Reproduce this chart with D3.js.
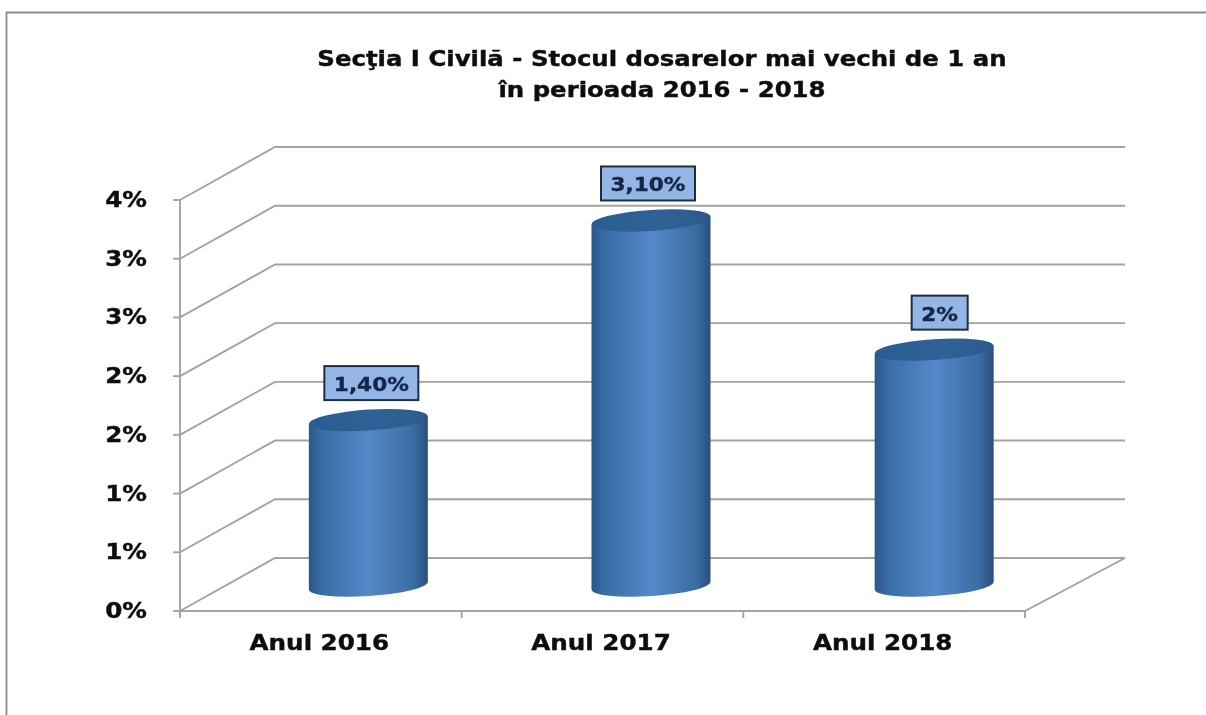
<!DOCTYPE html>
<html><head><meta charset="utf-8">
<script src="https://cdn.jsdelivr.net/npm/d3@7/dist/d3.min.js"></script>
<style>html,body{margin:0;padding:0;background:#fff;overflow:hidden}text{font-family:"DejaVu Sans",sans-serif;font-weight:bold}</style>
</head><body><svg id="c" width="1206" height="715"></svg>
<script>
const categories = ["Anul 2016","Anul 2017","Anul 2018"];
const values = [1.40,3.10,2.00];
const valueLabels = ["1,40%","3,10%","2%"];
const tickValues = [0,0.5,1,1.5,2,2.5,3,3.5];
const tickLabels = ["0%","1%","1%","2%","2%","3%","3%","4%"];
const titleLines = ["Secţia I Civilă - Stocul dosarelor mai vechi de 1 an","în perioada 2016 - 2018"];

const svg = d3.select("#c");
const depthX = 95, depthY = 53;
const y = d3.scaleLinear().domain([0,3.5]).range([611,200]);
const x = d3.scaleBand().domain(categories).range([180,1025]);
const grey = "#a3a3a3";
const barNudge = [0,1,2.5], labelNudge = [3,-2,8];

const defs = svg.append("defs");
const g = defs.append("linearGradient").attr("id","cyl");
[[0,"#2a5788"],[0.1,"#366ca6"],[0.5,"#5489c9"],[0.88,"#3a6ca3"],[1,"#2a4f7c"]]
  .forEach(([o,c])=>g.append("stop").attr("offset",o).attr("stop-color",c));
const cap = defs.append("linearGradient").attr("id","cap");
[[0,"#2b5c91"],[0.6,"#2f6296"],[1,"#2c5a8c"]]
  .forEach(([o,c])=>cap.append("stop").attr("offset",o).attr("stop-color",c));
const soft = defs.append("filter").attr("id","soft").attr("x","-5%").attr("y","-5%").attr("width","110%").attr("height","110%");
soft.append("feGaussianBlur").attr("stdDeviation",0.7);
const softer = defs.append("filter").attr("id","softT").attr("x","-5%").attr("y","-20%").attr("width","110%").attr("height","140%");
softer.append("feGaussianBlur").attr("stdDeviation",0.55);

function stretch(sel,f){
  sel.each(function(){
    this.setAttribute("textLength",this.getComputedTextLength()*f);
    this.setAttribute("lengthAdjust","spacingAndGlyphs");
  });
}

// frame
svg.append("path").attr("d","M6.5,715V12.5H1206").attr("fill","none").attr("stroke","#8c8c8c").attr("stroke-width",1.8);

// walls
const walls = svg.append("g").attr("fill","none").attr("stroke",grey).attr("stroke-width",1.9).attr("filter","url(#soft)");
walls.selectAll("path.grid").data(tickValues).join("path").attr("class","grid")
  .attr("d",d=>`M${x.range()[0]},${y(d)}L${x.range()[0]+depthX},${y(d)-depthY}H${x.range()[1]+depthX+5}`);
walls.append("path").attr("d",`M${x.range()[0]},${y(0)}H${x.range()[1]}L${x.range()[1]+depthX+5},${y(0)-depthY}`);
walls.append("path").attr("d",`M${x.range()[0]},${y(3.5)-0}V${y(0)}`);
walls.selectAll("path.ty").data(tickValues).join("path").attr("class","ty")
  .attr("d",d=>`M${x.range()[0]-7},${y(d)}H${x.range()[0]}`);
const xTicks = categories.map(c=>x(c)).concat(x.range()[1]);
walls.selectAll("path.tx").data(xTicks).join("path").attr("class","tx")
  .attr("d",d=>`M${d},${y(0)}v7`);

// cylinders
const rx = 59.5, ry = 10.5, tilt = -3.8;
const bars = svg.append("g").attr("filter","url(#soft)").selectAll("g").data(categories).join("g")
  .attr("transform",(c,i)=>`translate(${x(c)+x.bandwidth()/2+depthX/2+barNudge[i]},0)`);
const floorY = y(0)-depthY/2+1;
bars.each(function(c,i){
  const s = d3.select(this), top = y(values[i])-depthY/2;
  const dy = rx*Math.sin(-tilt*Math.PI/180);
  s.append("path")
    .attr("d",`M${-rx},${top+dy}L${-rx},${floorY+dy}A${rx},${ry} ${tilt} 0 0 ${rx},${floorY-dy}L${rx},${top-dy}Z`)
    .attr("fill","url(#cyl)");
  s.append("ellipse").attr("cx",0).attr("cy",top).attr("rx",rx).attr("ry",ry)
    .attr("transform",`rotate(${tilt} 0 ${top})`).attr("fill","url(#cap)");
});

// value labels
const lab = svg.append("g").selectAll("g").data(categories).join("g")
  .attr("transform",(c,i)=>`translate(${x(c)+x.bandwidth()/2+depthX/2+labelNudge[i]},${y(values[i])-depthY/2-37})`);
lab.append("rect").attr("x",(c,i)=>i==2?-28:-47).attr("width",(c,i)=>i==2?56:94).attr("y",-17).attr("height",34)
  .attr("fill","#93b6e6").attr("stroke","#1f2d44").attr("stroke-width",2);
lab.append("text").text((c,i)=>valueLabels[i]).attr("text-anchor","middle").attr("y",8).attr("font-size",20)
  .attr("fill","#14264a").attr("stroke","#14264a").attr("stroke-width",0.4).attr("filter","url(#softT)").call(stretch,1.08);

// axis labels
const txt = svg.append("g").attr("filter","url(#softT)").attr("fill","#111").attr("stroke","#111").attr("stroke-width",0.4);
txt.selectAll("text.yl").data(tickValues).join("text").attr("class","yl")
  .attr("x",147).attr("y",d=>y(d)+7).attr("text-anchor","end").attr("font-size",20.5)
  .text((d,i)=>tickLabels[i]).call(stretch,1.2);
txt.selectAll("text.xl").data(categories).join("text").attr("class","xl")
  .attr("x",c=>x(c)+x.bandwidth()/2-1.5).attr("y",650).attr("text-anchor","middle").attr("font-size",20.5)
  .text(c=>c).call(stretch,1.2);
txt.selectAll("text.tt").data(titleLines).join("text").attr("class","tt")
  .attr("x",662).attr("y",(d,i)=>66+i*31).attr("text-anchor","middle").attr("font-size",20.5)
  .text(d=>d).call(stretch,1.19);
</script></body></html>
